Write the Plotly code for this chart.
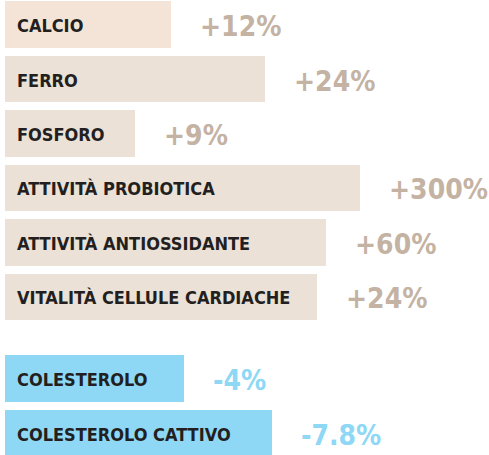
import plotly.graph_objects as go

# Data
categories = ["CALCIO", "FERRO", "FOSFORO", "ATTIVITÀ PROBIOTICA",
              "ATTIVITÀ ANTIOSSIDANTE", "VITALITÀ CELLULE CARDIACHE",
              "COLESTEROLO", "COLESTEROLO CATTIVO"]
value_labels = ["+12%", "+24%", "+9%", "+300%", "+60%", "+24%", "-4%", "-7.8%"]
bar_lengths = [166, 260, 130, 355, 321, 312, 179, 267]   # visual bar length (estimated)
row_positions = [0, 1, 2, 3, 4, 5, 6.5, 7.5]

# Styles
bar_colors = ["#f3e4d7", "#ebe1d6", "#ebe1d6", "#ebe1d6", "#ebe1d6", "#ebe1d6",
              "#8ed8f6", "#8ed8f6"]
value_colors = ["#c4b2a3"] * 6 + ["#8ed8f6"] * 2
FONT = "DejaVu Sans Condensed, DejaVu Sans, sans-serif"

fig = go.Figure()
fig.add_trace(go.Bar(
    x=bar_lengths, y=row_positions, orientation="h", base=0,
    width=0.86, marker=dict(color=bar_colors, line=dict(width=0)),
    hoverinfo="skip",
))

for cat, pos in zip(categories, row_positions):
    fig.add_annotation(x=10, y=pos, text=cat, showarrow=False, xanchor="left",
                       yanchor="middle", yshift=-1,
                       font=dict(family=FONT, size=18,
                                 color="#231f20", weight="bold"))

for lab, pos, L, c in zip(value_labels, row_positions, bar_lengths, value_colors):
    fig.add_annotation(x=L, y=pos, text=lab, showarrow=False, xanchor="left",
                       yanchor="middle", xshift=27, yshift=-2,
                       font=dict(family=FONT, size=28,
                                 color=c, weight="bold"))

fig.update_layout(
    width=489, height=455,
    margin=dict(l=0, r=0, t=0, b=0),
    paper_bgcolor="white", plot_bgcolor="white",
    showlegend=False,
    xaxis=dict(range=[-5, 484], visible=False, fixedrange=True),
    yaxis=dict(range=[7.90, -0.45], visible=False, fixedrange=True),
    bargap=0,
)

fig.write_html("out.html", config={"displayModeBar": False},
               post_script="document.body.style.margin='0';")
